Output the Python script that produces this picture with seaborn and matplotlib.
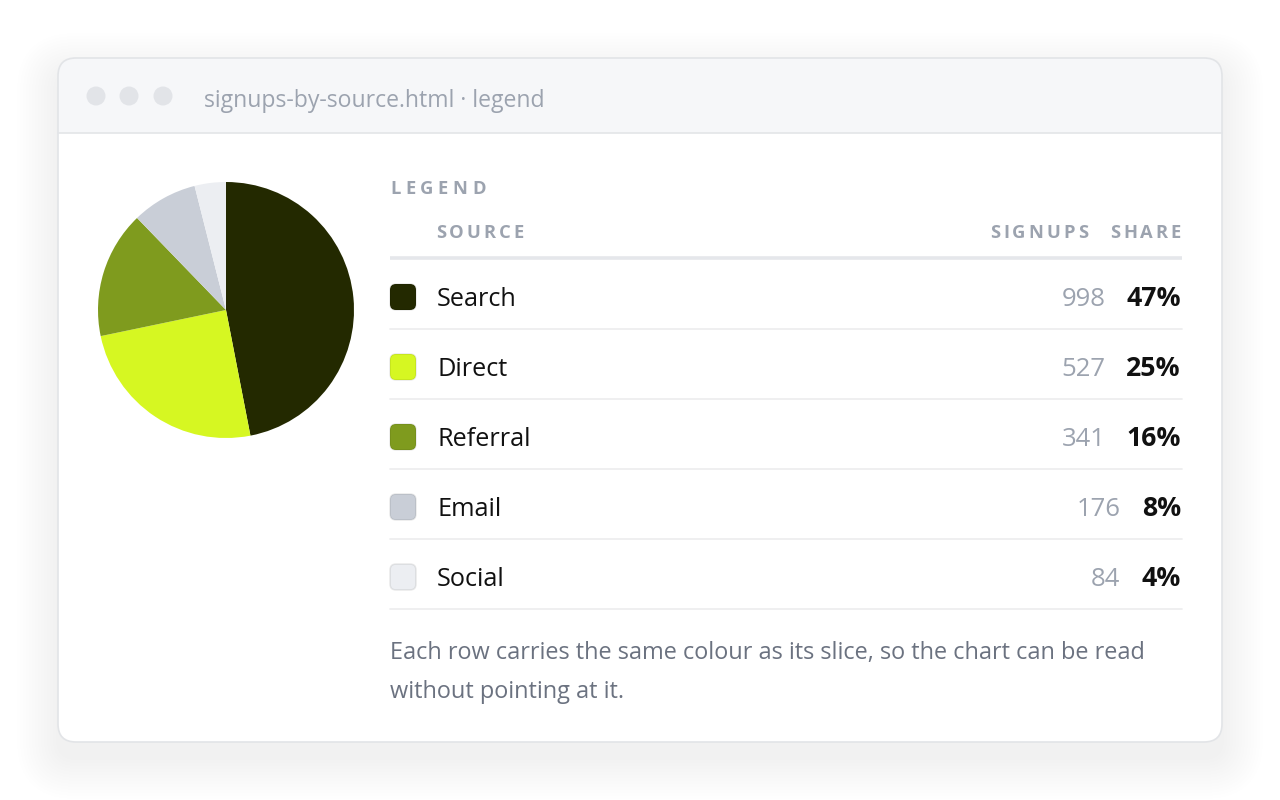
import seaborn as sns
import matplotlib.pyplot as plt
from matplotlib.patches import FancyBboxPatch, Rectangle, Circle

sns.set_theme(style="white")
plt.rcParams['font.family'] = ['Open Sans', 'DejaVu Sans']

# data
sources = ['Search', 'Direct', 'Referral', 'Email', 'Social']
signups = [998, 527, 341, 176, 84]
shares = ['47%', '25%', '16%', '8%', '4%']
colors = ['#232900', '#d6f722', '#7f9b1e', '#c9ced7', '#eceef2']

title = 'signups-by-source.html · legend'
note_lines = ['Each row carries the same colour as its slice, so the chart can be read',
              'without pointing at it.']

fig = plt.figure(figsize=(12.8, 8), dpi=100)
fig.patch.set_facecolor('white')
bg = fig.add_axes([0, 0, 1, 1])
bg.set_xlim(0, 1280)
bg.set_ylim(800, 0)
bg.axis('off')
renderer = fig.canvas.get_renderer()

# card shadow
for i in range(14):
    p = 2 + i * 3
    bg.add_patch(FancyBboxPatch((58 - p, 74 - p), 1164 + 2 * p, 684 + 2 * p,
                                boxstyle=f"round,pad=0,rounding_size={18 + p}",
                                facecolor='black', edgecolor='none', alpha=0.0024))

# card
bg.add_patch(FancyBboxPatch((58, 58), 1164, 684, boxstyle="round,pad=0,rounding_size=18",
                            facecolor='white', edgecolor='none'))
bg.add_patch(FancyBboxPatch((58, 58), 1164, 100, boxstyle="round,pad=0,rounding_size=18",
                            facecolor='#f6f7f9', edgecolor='none'))
bg.add_patch(Rectangle((58, 133), 1164, 40, facecolor='white', edgecolor='none'))
bg.plot([58, 1222], [133, 133], color='#e3e5e8', lw=1.2)
bg.add_patch(FancyBboxPatch((58, 58), 1164, 684, boxstyle="round,pad=0,rounding_size=18",
                            facecolor='none', edgecolor='#e2e4e7', lw=1.2))

for cx in [96, 129, 163]:
    bg.add_patch(Circle((cx, 96), 9.5, facecolor='#e2e4e8', edgecolor='none'))
bg.text(204, 98, title, fontsize=16.6, color='#9ca3af', va='center_baseline', ha='left')


def spaced(x, y, s, gap, align='left', **kw):
    widths = []
    for ch in s:
        t = bg.text(0, 0, ch, **kw)
        widths.append(t.get_window_extent(renderer).width)
        t.remove()
    total = sum(widths) + gap * (len(s) - 1)
    if align == 'right':
        x = x - total
    for ch, w in zip(s, widths):
        bg.text(x, y, ch, ha='left', va='center_baseline', **kw)
        x += w + gap


hdr = dict(fontsize=13.2, fontweight='bold', color='#9ca3af')
spaced(390, 187, 'LEGEND', 4.6, **hdr)
spaced(436, 231, 'SOURCE', 3.0, **hdr)
spaced(1088, 231, 'SIGNUPS', 3.0, align='right', **hdr)
spaced(1181, 231, 'SHARE', 3.0, align='right', **hdr)
bg.plot([390, 1182], [258, 258], color='#e5e7eb', lw=2.6, solid_capstyle='butt')

# rows
for i, (name, n, sh, c) in enumerate(zip(sources, signups, shares, colors)):
    y = 297 + i * 70
    bg.add_patch(FancyBboxPatch((390, y - 13), 26, 26, boxstyle="round,pad=0,rounding_size=6",
                                facecolor=c, edgecolor=(0, 0, 0, 0.08), lw=1.2))
    bg.text(437, y - 1, name, fontsize=18.2, color='#111111', va='center_baseline', ha='left')
    t = bg.text(1181, y - 1, sh, fontsize=19.2, fontweight='bold', color='#111111',
                va='center_baseline', ha='right')
    w = t.get_window_extent(renderer).width
    bg.text(1181 - w - 21, y - 1, str(n), fontsize=18.5, color='#9ca3af',
            va='center_baseline', ha='right')
    bg.plot([390, 1182], [y + 32, y + 32], color='#ececee', lw=1.2)

for j, line in enumerate(note_lines):
    bg.text(390, 650 + j * 39, line, fontsize=16.9, color='#6b7280',
            va='center_baseline', ha='left')

# pie
pie_ax = fig.add_axes([(226 - 128) / 1280, (800 - 310 - 128) / 800, 256 / 1280, 256 / 800])
pie_ax.pie(signups, colors=colors, startangle=90, counterclock=False,
           wedgeprops=dict(linewidth=0))
pie_ax.set_xlim(-1, 1)
pie_ax.set_ylim(-1, 1)
pie_ax.set_aspect('equal')
pie_ax.axis('off')

fig.savefig('out.png', dpi=100, facecolor='white')
